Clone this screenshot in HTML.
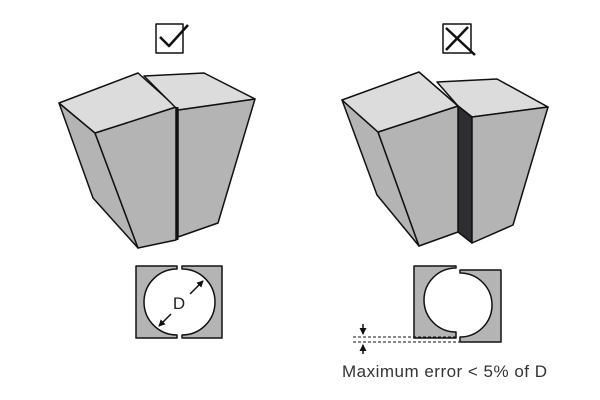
<!DOCTYPE html>
<html><head><style>html,body{margin:0;padding:0;background:#fff}svg{display:block}</style></head>
<body>
<svg width="600" height="400" viewBox="0 0 600 400" xmlns="http://www.w3.org/2000/svg">
<defs>
<marker id="ah" markerWidth="7" markerHeight="7" refX="6" refY="3.5" orient="auto" markerUnits="userSpaceOnUse"><path d="M0,0 L7,3.5 L0,7 z" fill="#111"/></marker>
</defs>
<g stroke="#111" stroke-width="1.5" stroke-linejoin="round">
<rect x="156" y="24" width="27" height="29" fill="#fff"/>
<path d="M160,37 L169,46 L188,25" fill="none" stroke-width="2.5"/>
<rect x="443" y="24" width="28" height="29" fill="#fff"/>
<path d="M446,28 L475,55 M468,27 L446,50" fill="none" stroke-width="2.5"/>

<polygon points="59,103 95,133 138,248 93,198" fill="#b4b4b4"/>
<polygon points="95,133 176,107 176,240 138,248" fill="#b4b4b4"/>
<polygon points="59,103 138,73 176,107 95,133" fill="#dcdcdc"/>
<polygon points="178,110 255,99 218,223 178,237" fill="#b4b4b4"/>
<polygon points="144,76 204,73 255,99 178,110" fill="#dcdcdc"/>
<line x1="177" y1="107" x2="177" y2="240" stroke-width="3"/>

<polygon points="437,82 497,79 548,107 472,117 458,106" fill="#dcdcdc"/>
<polygon points="458,106 472,117 472,243 458,232" fill="#2e2e32"/>
<polygon points="472,117 548,107 513,225 472,243" fill="#b4b4b4"/>
<polygon points="342,100 378,132 419,246 377,195" fill="#b4b4b4"/>
<polygon points="378,132 458,106 458,232 419,246" fill="#b4b4b4"/>
<polygon points="342,100 419,72 458,106 378,132" fill="#dcdcdc"/>

<path d="M136,266 H177 V269 A33,33 0 0 0 177,335 V338 H136 Z" fill="#b4b4b4"/>
<path d="M222,266 H182 V269 A33,33 0 0 1 182,335 V338 H222 Z" fill="#b4b4b4"/>
<path d="M414,266 H456 V268 A32,32 0 0 0 456,332 V338 H414 Z" fill="#b4b4b4"/>
<path d="M501,270 H460 V273 A32,32 0 0 1 460,337 V342 H501 Z" fill="#b4b4b4"/>
</g>
<g stroke="#111" stroke-width="1.5" fill="none">
<line x1="171" y1="314" x2="159" y2="326" marker-end="url(#ah)"/>
<line x1="190" y1="294" x2="203" y2="281" marker-end="url(#ah)"/>
<line x1="353" y1="337" x2="456" y2="337" stroke-dasharray="3,2" stroke-width="1"/>
<line x1="353" y1="342" x2="460" y2="342" stroke-dasharray="3,2" stroke-width="1"/>
<line x1="363" y1="324" x2="363" y2="334" marker-end="url(#ah)"/>
<line x1="363" y1="354" x2="363" y2="345" marker-end="url(#ah)"/>
</g>
<text x="179" y="309" font-family="Liberation Sans, sans-serif" font-size="17" fill="#222" text-anchor="middle">D</text>
<text x="342" y="377" font-family="Liberation Sans, sans-serif" font-size="17" fill="#333" textLength="205">Maximum error &lt; 5% of D</text>
</svg>
</body></html>
